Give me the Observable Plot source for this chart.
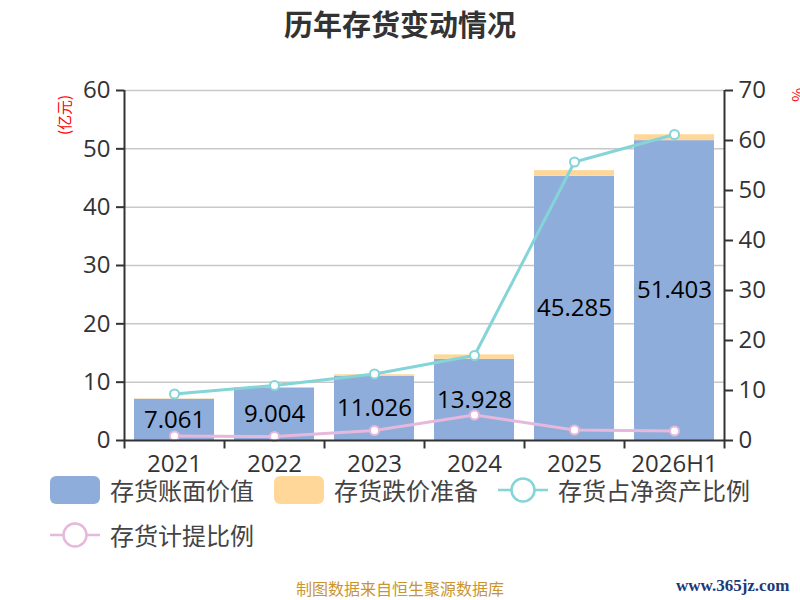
<!DOCTYPE html>
<html>
<head>
<meta charset="utf-8">
<script src="https://cdn.jsdelivr.net/npm/d3@7"></script>
<script src="https://cdn.jsdelivr.net/npm/@observablehq/plot@0.6"></script>
<style>
  html, body { margin: 0; padding: 0; background: #fff; }
  #wrap { position: relative; width: 800px; height: 600px; overflow: hidden; font-family: "Open Sans", "Noto Sans CJK SC", sans-serif; }
  #title { position: absolute; left: 0; top: 0; width: 800px; text-align: center; font-family: "Noto Sans CJK SC", sans-serif; font-weight: bold; font-size: 29px; line-height: 46px; color: #333; }
  #chart { position: absolute; left: 0; top: 50px; }
  .leg { position: absolute; display: flex; align-items: center; font-family: "Noto Sans CJK SC", sans-serif; font-size: 24px; color: #444; white-space: nowrap; }
  .sw { width: 50px; height: 28px; border-radius: 6px; margin-right: 10px; }
  .leg svg { margin-right: 10px; }
  .rot { position: absolute; font-family: "Noto Sans CJK SC", sans-serif; font-size: 15px; color: #f00; white-space: nowrap; line-height: 1; }
  #caption { position: absolute; left: 0; top: 576px; width: 800px; text-align: center; font-family: "Noto Sans CJK SC", sans-serif; font-size: 16px; color: #C9952F; }
  #wm { position: absolute; left: 676px; top: 576px; font-family: "Liberation Serif", serif; font-weight: bold; font-size: 17px; color: #1B3A78; }
</style>
</head>
<body>
<div id="wrap">
  <div id="title">历年存货变动情况</div>
  <div id="chart"></div>
  <div class="rot" id="ylab" style="left:63px; top:115px; transform: translate(-50%, -50%) rotate(-90deg);">(亿元)</div>
  <div class="rot" id="y2lab" style="left:798px; top:95px; transform: translate(-50%, -50%) rotate(90deg);">%</div>
  <div class="leg" style="left:50px; top:472px;"><div class="sw" style="background:#8EADDA"></div><span>存货账面价值</span></div>
  <div class="leg" style="left:274px; top:472px;"><div class="sw" style="background:#FFD899"></div><span>存货跌价准备</span></div>
  <div class="leg" style="left:498px; top:472px;"><svg width="50" height="28"><line x1="0" y1="14" x2="50" y2="14" stroke="#84D4D8" stroke-width="2.5"/><circle cx="25" cy="14" r="11.5" fill="#fff" stroke="#84D4D8" stroke-width="2.5"/></svg><span>存货占净资产比例</span></div>
  <div class="leg" style="left:50px; top:517px;"><svg width="50" height="28"><line x1="0" y1="14" x2="50" y2="14" stroke="#E6B8DB" stroke-width="2.5"/><circle cx="25" cy="14" r="11.5" fill="#fff" stroke="#E6B8DB" stroke-width="2.5"/></svg><span>存货计提比例</span></div>
  <div id="caption">制图数据来自恒生聚源数据库</div>
  <div id="wm">www.365jz.com</div>
</div>
<script>
// Data
const years = ["2021", "2022", "2023", "2024", "2025", "2026H1"];
const bookValue = [7.061, 9.004, 11.026, 13.928, 45.285, 51.403];   // 存货账面价值 (亿元)
const reserve = [0.07, 0.07, 0.25, 0.75, 0.98, 1.02];               // 存货跌价准备 (亿元)
const netAssetRatio = [9.3, 11.0, 13.3, 17.0, 55.7, 61.2];          // 存货占净资产比例 (%)
const provisionRatio = [0.9, 0.8, 2.0, 5.1, 2.1, 1.9];              // 存货计提比例 (%)
const leftTicks = [0, 10, 20, 30, 40, 50, 60];
const rightTicks = [0, 10, 20, 30, 40, 50, 60, 70];

const blue = "#8EADDA", orange = "#FFD899", cyan = "#84D4D8", pink = "#E6B8DB";
const k = 60 / 70; // right axis -> left axis
const rows = years.map((y, i) => ({year: y, book: bookValue[i], res: reserve[i], nar: netAssetRatio[i], pr: provisionRatio[i]}));

const chart = Plot.plot({
  width: 800,
  height: 430,
  marginLeft: 124,
  marginRight: 76,
  marginTop: 40,
  marginBottom: 40,
  x: {domain: years, paddingInner: 0.2, paddingOuter: 0.1},
  y: {domain: [0, 60]},
  style: {fontFamily: "'Open Sans', 'Noto Sans CJK SC', sans-serif", fontSize: "24px", color: "#333", background: "transparent", overflow: "visible"},
  marks: [
    Plot.gridY({ticks: leftTicks.slice(1), stroke: "#c8c8c8", strokeOpacity: 1, strokeWidth: 1.5}),
    Plot.barY(rows, {x: "year", y1: 0, y2: "book", fill: blue}),
    Plot.barY(rows, {x: "year", y1: "book", y2: d => d.book + d.res, fill: orange}),
    Plot.text(rows, {x: "year", y: d => d.book / 2, text: d => d.book.toFixed(3), fill: "#000", fontSize: 24}),
    Plot.line(rows, {x: "year", y: d => d.nar * k, stroke: cyan, strokeWidth: 3}),
    Plot.dot(rows, {x: "year", y: d => d.nar * k, r: 4.5, fill: "#fff", stroke: cyan, strokeWidth: 2}),
    Plot.line(rows, {x: "year", y: d => d.pr * k, stroke: pink, strokeWidth: 3}),
    Plot.dot(rows, {x: "year", y: d => d.pr * k, r: 4.5, fill: "#fff", stroke: pink, strokeWidth: 2}),
    Plot.ruleY([0], {stroke: "#333", strokeWidth: 2}),
    Plot.ruleX([years[0]], {x: d => d, dx: -50, y1: 0, y2: 60, stroke: "#333", strokeWidth: 2}),
    Plot.ruleX([years[years.length - 1]], {x: d => d, dx: 50, y1: 0, y2: 60, stroke: "#333", strokeWidth: 2}),
    Plot.ruleX(years, {x: d => d, dx: -50, y1: 0, y2: -1.45, stroke: "#333", strokeWidth: 2}),
    Plot.ruleX([years[years.length - 1]], {x: d => d, dx: 50, y1: 0, y2: -1.45, stroke: "#333", strokeWidth: 2}),
    Plot.axisY({anchor: "left", ticks: leftTicks, tickSize: 8, tickPadding: 6, strokeWidth: 2, label: null, fontSize: 24}),
    Plot.axisY({anchor: "right", ticks: rightTicks.map(v => v * k), tickFormat: d => String(Math.round(d / k)), tickSize: 8, tickPadding: 6, strokeWidth: 2, label: null, fontSize: 24}),
    Plot.axisX({tickSize: 0, tickPadding: 14, label: null, fontSize: 24})
  ]
});
document.getElementById("chart").appendChild(chart);
</script>
</body>
</html>
